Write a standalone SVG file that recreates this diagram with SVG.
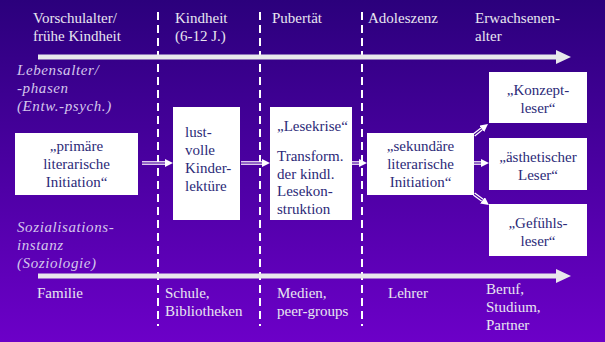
<svg xmlns="http://www.w3.org/2000/svg" width="605" height="342" viewBox="0 0 605 342">
<defs>
<linearGradient id="bg" gradientUnits="userSpaceOnUse" x1="0" y1="0" x2="0" y2="342">
<stop offset="0" stop-color="#2b007c"/>
<stop offset="1" stop-color="#6c00c8"/>
</linearGradient>
<marker id="ah" viewBox="0 0 8 8" refX="0" refY="4" markerWidth="8" markerHeight="8" markerUnits="userSpaceOnUse" orient="auto">
<path d="M0,0 L8,4 L0,8 z" fill="#ffffff"/>
</marker>
<style>
text{font-family:'Liberation Serif','DejaVu Serif',serif;font-size:15px}
.hd{fill:#e8e6f0}
.it{fill:#d4c6ec;font-style:italic;letter-spacing:0.6px}
.bx{fill:#ffffff}
.bt{fill:#2c2a78}
.c{text-anchor:middle}
.dash{stroke:#ffffff;stroke-width:2;stroke-dasharray:8 5;fill:none}
.axis{stroke:#e8e8ec;stroke-width:5;fill:none}
.head{fill:#e8e8ec}
.dbl{stroke:#ffffff;stroke-width:3.6;fill:none}
.dbi{stroke:url(#bg);stroke-width:1.2;fill:none}
</style>
</defs>
<rect width="605" height="342" fill="url(#bg)"/>

<g id="phase-lines">
<line class="dash" x1="158" y1="12" x2="158" y2="326"/>
<line class="dash" x1="260" y1="12" x2="260" y2="326"/>
<line class="dash" x1="362" y1="12" x2="362" y2="326"/>
</g>

<g id="axes">
<line class="axis" x1="38" y1="57" x2="558" y2="57"/>
<polygon class="head" points="556,50 571,57 556,64"/>
<line class="axis" x1="38" y1="276" x2="558" y2="276"/>
<polygon class="head" points="556,269 571,276 556,283"/>
</g>

<g font-family="Liberation Serif, DejaVu Serif, serif">
<g id="labels-top">
<text class="hd" x="33" y="23">Vorschulalter/</text>
<text class="hd" x="33" y="41">frühe Kindheit</text>
<text class="hd" x="175" y="23">Kindheit</text>
<text class="hd" x="175" y="41">(6-12 J.)</text>
<text class="hd" x="272" y="23">Pubertät</text>
<text class="hd" x="368" y="23">Adoleszenz</text>
<text class="hd" x="475" y="23">Erwachsenen-</text>
<text class="hd" x="475" y="41">alter</text>
</g>

<g id="labels-side">
<text class="it" x="17" y="75">Lebensalter/</text>
<text class="it" x="17" y="93">-phasen</text>
<text class="it" x="17" y="111">(Entw.-psych.)</text>
<text class="it" x="17" y="232">Sozialisations-</text>
<text class="it" x="17" y="250">instanz</text>
<text class="it" x="17" y="268">(Soziologie)</text>
</g>

<g id="labels-bottom">
<text class="hd" x="37" y="298">Familie</text>
<text class="hd" x="165" y="298">Schule,</text>
<text class="hd" x="165" y="316">Bibliotheken</text>
<text class="hd" x="277" y="298">Medien,</text>
<text class="hd" x="277" y="316">peer-groups</text>
<text class="hd" x="388" y="298">Lehrer</text>
<text class="hd" x="486" y="294">Beruf,</text>
<text class="hd" x="486" y="312">Studium,</text>
<text class="hd" x="486" y="330">Partner</text>
</g>
</g>

<g id="connectors">
<line class="dbl" x1="142" y1="163" x2="165" y2="163" marker-end="url(#ah)"/>
<line class="dbi" x1="142" y1="163" x2="165" y2="163"/>
<line class="dbl" x1="241" y1="163" x2="262" y2="163" marker-end="url(#ah)"/>
<line class="dbi" x1="241" y1="163" x2="262" y2="163"/>
<line class="dbl" x1="351" y1="163" x2="359" y2="163" marker-end="url(#ah)"/>
<line class="dbi" x1="351" y1="163" x2="359" y2="163"/>
<line class="dbl" x1="474" y1="135" x2="481.7" y2="128.9" marker-end="url(#ah)"/>
<line class="dbi" x1="474" y1="135" x2="481.7" y2="128.9"/>
<line class="dbl" x1="474" y1="163" x2="481" y2="163" marker-end="url(#ah)"/>
<line class="dbi" x1="474" y1="163" x2="481" y2="163"/>
<line class="dbl" x1="474" y1="194" x2="482.5" y2="200.3" marker-end="url(#ah)"/>
<line class="dbi" x1="474" y1="194" x2="482.5" y2="200.3"/>
</g>

<g id="primaere">
<rect class="bx" x="15" y="133" width="123" height="62"/>
<text class="bt c" x="76.5" y="151">„primäre</text>
<text class="bt c" x="76.5" y="169">literarische</text>
<text class="bt c" x="76.5" y="187">Initiation“</text>
</g>

<g id="lustvolle">
<rect class="bx" x="173" y="107" width="67" height="113"/>
<text class="bt" x="185" y="137">lust-</text>
<text class="bt" x="185" y="155">volle</text>
<text class="bt" x="185" y="173">Kinder-</text>
<text class="bt" x="185" y="191">lektüre</text>
</g>

<g id="lesekrise">
<rect class="bx" x="270" y="107" width="82" height="113"/>
<text class="bt" x="277" y="131">„Lesekrise“</text>
<text class="bt" x="277" y="161">Transform.</text>
<text class="bt" x="277" y="178.5">der kindl.</text>
<text class="bt" x="277" y="196">Lesekon-</text>
<text class="bt" x="277" y="213.5">struktion</text>
</g>

<g id="sekundaere">
<rect class="bx" x="367" y="133" width="107" height="62"/>
<text class="bt c" x="420.5" y="151">„sekundäre</text>
<text class="bt c" x="420.5" y="169">literarische</text>
<text class="bt c" x="420.5" y="187">Initiation“</text>
</g>

<g id="konzeptleser">
<rect class="bx" x="489" y="72" width="98" height="51"/>
<text class="bt c" x="538" y="95">„Konzept-</text>
<text class="bt c" x="538" y="113">leser“</text>
</g>

<g id="aesthetischer">
<rect class="bx" x="489" y="138" width="98" height="52"/>
<text class="bt c" x="538" y="162">„ästhetischer</text>
<text class="bt c" x="538" y="180">Leser“</text>
</g>

<g id="gefuehlsleser">
<rect class="bx" x="489" y="204" width="98" height="52"/>
<text class="bt c" x="538" y="228">„Gefühls-</text>
<text class="bt c" x="538" y="246">leser“</text>
</g>
</svg>
